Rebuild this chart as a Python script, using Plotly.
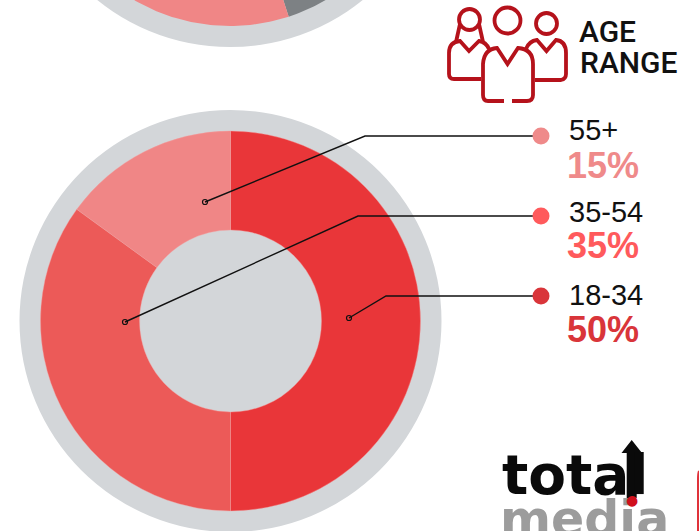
import numpy as np
import plotly.graph_objects as go

W, H = 699, 531

# Age range donut
age_labels = ["18-34", "35-54", "55+"]
age_values = [50, 35, 15]
slice_colors = ["#e93639", "#ec5a58", "#f08686"]
dot_colors = ["#d9353a", "#ff5a5c", "#ef8a8a"]

# Previous donut, cut off by the top of the page
top_values = [45, 55]
top_colors = ["#7d8184", "#f08686"]

RING = "#d3d6d9"
ICON = "#b5121b"

# donut geometry in page pixels
CX, CY, R, R_RING, R_HOLE = 230.5, 321, 190, 211, 91
TOP_CX, TOP_CY = 230, -164

# leader lines: label y, elbow x, anchor point, y of the two text rows
leaders = {
    "55+": (136, 365, 205, 202, 130, 165),
    "35-54": (216, 358, 125, 322, 212, 245),
    "18-34": (296, 386, 349, 318, 295, 329),
}
DOT_X = 541


def circle(cx, cy, r, **kw):
    return dict(type="circle", xref="x", yref="y", x0=cx - r, x1=cx + r, y0=cy - r, y1=cy + r, **kw)


def icon_path(d, width=3.8, color=ICON):
    return dict(type="path", xref="x", yref="y", path=d, line=dict(color=color, width=width))


fig = go.Figure()

shapes = [
    circle(TOP_CX, TOP_CY, R_RING, fillcolor=RING, line_width=0, layer="below"),
    circle(CX, CY, R_RING, fillcolor=RING, line_width=0, layer="below"),
]

# top donut cannot be a Pie, its domain would leave the page
start = 0
for value, color in zip(top_values, top_colors):
    a = np.radians(np.linspace(start, start + value, 200) * 3.6)
    xs = np.concatenate([TOP_CX + R * np.sin(a), TOP_CX + R_HOLE * np.sin(a[::-1])])
    ys = np.concatenate([TOP_CY - R * np.cos(a), TOP_CY - R_HOLE * np.cos(a[::-1])])
    fig.add_trace(go.Scatter(x=xs, y=ys, mode="lines", fill="toself", fillcolor=color,
                             line=dict(width=0), hoverinfo="skip", showlegend=False))
    start += value

fig.add_trace(go.Pie(
    labels=age_labels, values=age_values, sort=False, direction="clockwise", rotation=0,
    hole=R_HOLE / R, textinfo="none", showlegend=False,
    marker=dict(colors=slice_colors, line=dict(color="#f4a0a0", width=0.4)),
    domain=dict(x=[(CX - R) / W, (CX + R) / W], y=[1 - (CY + R) / H, 1 - (CY - R) / H]),
))

annotations = []
for label, value, dot in zip(age_labels, age_values, dot_colors):
    ly, ex, ax, ay, label_y, pct_y = leaders[label]
    # pies sit above scatter traces, so the leaders have to be shapes
    shapes.append(dict(type="path", xref="x", yref="y", path=f"M {ax} {ay} L {ex} {ly} L {DOT_X} {ly}",
                       line=dict(color="#111111", width=1.4)))
    shapes.append(circle(ax, ay, 2.5, fillcolor="rgba(0,0,0,0)", line=dict(color="#111111", width=1.2)))
    shapes.append(circle(DOT_X, ly, 8.5, fillcolor=dot, line_width=0))
    annotations.append(dict(x=567, y=label_y, text=label, showarrow=False, xanchor="left", yanchor="middle",
                            font=dict(family="Liberation Sans", size=29, color="#111111")))
    annotations.append(dict(x=565, y=pct_y, text=f"<b>{value}%</b>", showarrow=False, xanchor="left",
                            yanchor="middle", font=dict(family="Liberation Sans", size=36, color=dot)))

annotations.append(dict(x=577, y=31, text="AGE", showarrow=False, xanchor="left", yanchor="middle",
                        font=dict(family="Roboto", size=30, color="#111111", weight=500)))
annotations.append(dict(x=578, y=62, text="RANGE", showarrow=False, xanchor="left", yanchor="middle",
                        font=dict(family="Roboto", size=30, color="#111111", weight=500)))
# later annotations draw on top: grey word, black word, then the red dot
annotations.append(dict(x=498, y=519, text="<b>media</b>", showarrow=False, xanchor="left", yanchor="middle",
                        font=dict(family="DejaVu Sans", size=49, color="#9c9c9c")))
annotations.append(dict(x=500, y=475, text="<b>total</b>", showarrow=False, xanchor="left", yanchor="middle",
                        font=dict(family="DejaVu Sans", size=55, color="#0a0a0a")))
annotations.append(dict(x=631.7, y=500, text="●", showarrow=False, xanchor="center", yanchor="middle",
                        font=dict(family="DejaVu Sans", size=14, color="#d0101c")))

# people icon
shapes += [
    circle(469.5, 19.5, 10.5, line=dict(color=ICON, width=3.8)),
    circle(507.5, 20.5, 13, line=dict(color=ICON, width=3.8)),
    circle(546.5, 23.5, 10.5, line=dict(color=ICON, width=3.8)),
    icon_path("M 460 24 L 456 42"),
    icon_path("M 479 24 L 483 42"),
    icon_path("M 481 79 L 454 79 Q 449 79 449 74 L 449 53 Q 449 42 460 41 L 469 51 L 479 41 Q 486 42 489 49"),
    icon_path("M 526 49 Q 529 41 537 40 L 546.5 51 L 556 40 Q 566 41 566 53 L 566 74 Q 566 79 561 80 L 535 80"),
    icon_path("M 504 101 L 488 101 Q 483 101 483 95 L 483 64 Q 484 49 497 48 L 507.5 64 L 518 48 "
              "Q 533 49 533 64 L 533 95 Q 533 101 527 101 L 512 101"),
    # logo arrow
    dict(type="path", xref="x", yref="y", path="M 631.7 440 L 642 453 L 636.7 453 L 636.7 498 L 626.7 498 "
         "L 626.7 453 L 621.5 453 Z", fillcolor="#0a0a0a", line_width=0),
    # edge of the next panel
    icon_path("M 699 471 Q 698 473 698 480 L 698 531", width=2, color="#e0323a"),
]

fig.update_layout(
    width=W, height=H, margin=dict(l=0, r=0, t=0, b=0),
    paper_bgcolor="white", plot_bgcolor="white",
    xaxis=dict(range=[0, W], visible=False, fixedrange=True),
    yaxis=dict(range=[H, 0], visible=False, fixedrange=True),
    shapes=shapes, annotations=annotations, showlegend=False,
)

fig.write_html("out.html", config=dict(displayModeBar=False),
               post_script="document.body.style.margin='0';document.body.style.overflow='hidden';")
